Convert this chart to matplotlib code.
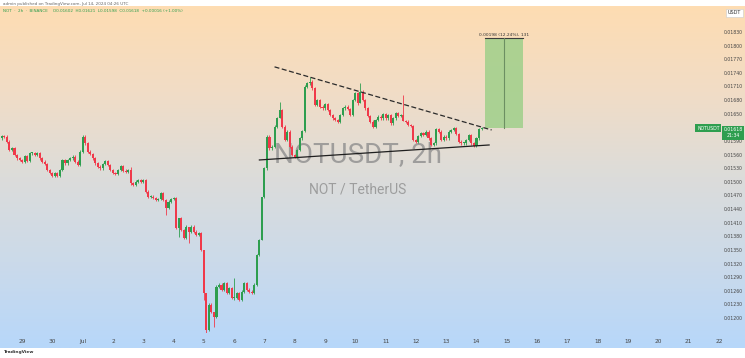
import numpy as np
import pandas as pd
import matplotlib
matplotlib.use("Agg")
import matplotlib.pyplot as plt
import matplotlib.dates as mdates
from matplotlib.colors import LinearSegmentedColormap
from matplotlib.transforms import blended_transform_factory

# ---------------- data (prices in 1e-5 USDT) ----------------
start_time = "2024-06-28 08:00"
closes_u = [
    1601, 1599, 1588, 1570, 1574, 1559, 1552, 1548, 1544, 1557,
    1546, 1563, 1563, 1559, 1563, 1552, 1544, 1539, 1526, 1519,
    1513, 1519, 1513, 1526, 1548, 1541, 1548, 1552, 1555, 1544,
    1537, 1566, 1599, 1585, 1566, 1561, 1552, 1541, 1533, 1530,
    1539, 1546, 1537, 1526, 1519, 1517, 1526, 1535, 1524, 1522,
    1526, 1497, 1493, 1500, 1504, 1500, 1504, 1478, 1467, 1467,
    1464, 1460, 1462, 1475, 1460, 1442, 1456, 1462, 1464, 1398,
    1420, 1394, 1376, 1401, 1390, 1401, 1390, 1383, 1387, 1350,
    1255, 1174, 1229, 1214, 1203, 1269, 1273, 1262, 1277, 1255,
    1266, 1244, 1244, 1255, 1240, 1258, 1277, 1262, 1258, 1255,
    1273, 1339, 1372, 1467, 1530, 1599, 1574, 1577, 1621, 1640,
    1658, 1621, 1592, 1610, 1577, 1559, 1555, 1570, 1596, 1612,
    1709, 1717, 1720, 1706, 1669, 1680, 1665, 1662, 1671, 1658,
    1647, 1640, 1636, 1632, 1647, 1662, 1665, 1660, 1647, 1680,
    1695, 1673, 1698, 1680, 1662, 1645, 1632, 1621, 1636, 1643,
    1640, 1649, 1640, 1647, 1629, 1640, 1651, 1645, 1647, 1634,
    1632, 1625, 1623, 1592, 1588, 1601, 1607, 1603, 1610, 1596,
    1581, 1585, 1616, 1610, 1592, 1599, 1596, 1610, 1614, 1618,
    1605, 1588, 1585, 1585, 1592, 1603, 1585, 1579, 1596, 1616,
    1618,
]
first_open_u = 1596
# notable wicks: index -> (high, low)
wicks_u = {
    51: (1533, 1493), 65: (1462, 1427), 70: (1420, 1379), 74: (1401, 1365),
    80: (1350, 1240), 81: (1245, 1163), 84: (1214, 1181), 92: (1288, 1240),
    103: (1467, 1372), 110: (1676, 1640), 122: (1731, 1712),
    142: (1717, 1673), 159: (1691, 1634),
}
wick_pad_u = 3

# drawings
upper_line_t = ["2024-07-07 08:00", "2024-07-14 12:00"]
upper_line_u = [1753, 1614]
lower_line_t = ["2024-07-06 20:00", "2024-07-14 10:00"]
lower_line_u = [1548, 1581]
box_t = ["2024-07-14 07:00", "2024-07-14 22:00", "2024-07-15 13:00"]
box_u = [1618, 1816]
box_label = "0.00198 (12.24%), 131"

day_ticks = pd.date_range("2024-06-29", "2024-07-22", freq="D")
day_labels = ["29", "30", "Jul"] + [str(d) for d in range(2, 23)]
price_ticks_u = [t for t in range(1200, 1831, 30) if t != 1620]

last_price_label = "0.01618"
countdown_label = "21:34"
symbol = "NOTUSDT"

# ---------------- derived ----------------
closes = np.array(closes_u) / 1e5
opens = np.concatenate([[first_open_u / 1e5], closes[:-1]])
highs = np.maximum(opens, closes) + wick_pad_u / 1e5
lows = np.minimum(opens, closes) - wick_pad_u / 1e5
for k, (h, l) in wicks_u.items():
    highs[k] = max(h / 1e5, max(opens[k], closes[k]))
    lows[k] = min(l / 1e5, min(opens[k], closes[k]))
times = pd.date_range(start_time, periods=len(closes), freq="2h")
tnum = mdates.date2num(times)

W, H = 745, 358
fig = plt.figure(figsize=(W / 100, H / 100), dpi=100)
fig.patch.set_facecolor("white")

# background gradient
bg = fig.add_axes([0, 10 / H, 1, (348 - 6) / H])
cmap = LinearSegmentedColormap.from_list(
    "tv", ["#FEDCB2", "#F1DDC6", "#DCDCDA", "#CBDAEA", "#B7D7FA"])
bg.imshow(np.linspace(0, 1, 256).reshape(-1, 1), aspect="auto", cmap=cmap,
          extent=[0, 1, 0, 1], origin="upper")
bg.set_axis_off()

ax = fig.add_axes([0, 1 - 333 / H, 722 / W, (333 - 6) / H])
ax.patch.set_alpha(0)
for s in ax.spines.values():
    s.set_visible(False)

up_col, dn_col = "#2E9E4F", "#F0394A"
cols = np.where(closes >= opens, up_col, dn_col)
ax.vlines(tnum, lows, highs, colors=cols, linewidth=0.6, zorder=3)
bottoms = np.minimum(opens, closes)
heights = np.maximum(np.abs(closes - opens), 0.000025)
ax.bar(tnum, heights, bottom=bottoms, width=0.068, color=cols, linewidth=0,
       zorder=4)

# watermark
ax.text(0.496, 0.545, "NOTUSDT, 2h", transform=ax.transAxes, ha="center",
        va="center", fontsize=20, family="Roboto", color="#8E8E8E",
        alpha=0.8, zorder=2)
ax.text(0.496, 0.44, "NOT / TetherUS", transform=ax.transAxes, ha="center",
        va="center", fontsize=10, family="Roboto", color="#8E8E8E",
        alpha=0.8, zorder=2)

# trend lines
ut = mdates.date2num(pd.to_datetime(upper_line_t))
lt = mdates.date2num(pd.to_datetime(lower_line_t))
ax.plot(ut, np.array(upper_line_u) / 1e5, color="#2b2b2b", lw=0.9,
        ls=(0, (4, 2)), zorder=5)
ax.plot(lt, np.array(lower_line_u) / 1e5, color="#1f1f1f", lw=0.9, zorder=5)

# projection box
bt = mdates.date2num(pd.to_datetime(box_t))
ax.fill_between([bt[0], bt[2]], box_u[0] / 1e5, box_u[1] / 1e5,
                color="#9FD08A", alpha=0.85, lw=0, zorder=4)
ax.plot([bt[0], bt[2]], [box_u[1] / 1e5] * 2, color="#3c3c3c", lw=0.8,
        zorder=5)
ax.plot([bt[1], bt[1]], [box_u[0] / 1e5, box_u[1] / 1e5], color="#6c8f62",
        lw=0.8, zorder=5)
ax.text(bt[1], box_u[1] / 1e5 + 0.00003, box_label, ha="center",
        va="bottom", fontsize=3.2, color="#333333", zorder=6)

# axes
ax.set_xlim(mdates.date2num(pd.Timestamp("2024-06-28 06:30")),
            mdates.date2num(pd.Timestamp("2024-07-22 02:30")))
ax.set_ylim(1167 / 1e5, 1887 / 1e5)
ax.set_xticks(mdates.date2num(day_ticks))
ax.set_xticklabels(day_labels)
ax.yaxis.tick_right()
ax.set_yticks(np.array(price_ticks_u) / 1e5)
ax.set_yticklabels([f"{v / 1e5:.5f}" for v in price_ticks_u])
ax.tick_params(axis="x", length=0, pad=4, labelsize=4.2, colors="#444444")
ax.tick_params(axis="y", length=0, pad=1.2, labelsize=3.3, colors="#444444")
for lab in ax.get_yticklabels():
    lab.set_horizontalalignment("left")

# last price labels
tr = blended_transform_factory(ax.transAxes, ax.transData)
lp = closes[-1]
ax.text(0.981, lp, symbol, transform=tr, ha="center", va="center",
        fontsize=3.3, color="white", zorder=7,
        bbox=dict(boxstyle="square,pad=0.35", fc=up_col, ec="none"))
ax.text(1.0155, lp + 0.00002, last_price_label + "\n" + countdown_label,
        transform=tr, ha="center", va="top", fontsize=3.3, color="white",
        zorder=7, linespacing=1.3, clip_on=False,
        bbox=dict(boxstyle="square,pad=0.3", fc=up_col, ec="none"))

# header / footer
fig.text(0.004, 1 - 3.5 / H, "admin published on TradingView.com, Jul 14, 2024 04:26 UTC",
         fontsize=3, color="#666666", va="center")
fig.text(0.004, 1 - 11.5 / H,
         "NOT  ·  2h  ·  BINANCE    O0.01602  H0.01621  L0.01598  C0.01618  +0.00016 (+1.00%)",
         fontsize=3, color="#2E9E4F", va="center")
fig.text(0.9855, 1 - 13 / H, "USDT", fontsize=3.5, color="#333333",
         ha="center", va="center",
         bbox=dict(boxstyle="square,pad=0.4", fc="white", ec="#cccccc", lw=0.4))
fig.text(0.005, 1 - 352 / H, "TradingView", fontsize=3.2, color="#333333",
         va="center", weight="bold")

fig.savefig("out.png", dpi=100, facecolor=fig.get_facecolor())
